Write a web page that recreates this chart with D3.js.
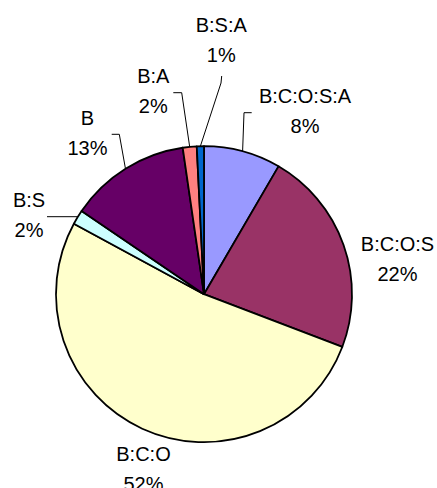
<!DOCTYPE html>
<html>
<head>
<meta charset="utf-8">
<script src="https://cdn.jsdelivr.net/npm/d3@7"></script>
<style>
html,body{margin:0;padding:0;background:#fff;}
svg{display:block;}
</style>
</head>
<body>
<svg id="chart" width="437" height="488"></svg>
<script>
// Data (percent shares, clockwise from 12 o'clock)
const categories = ["B:C:O:S:A", "B:C:O:S", "B:C:O", "B:S", "B", "B:A", "B:S:A"];
const values = [8.4, 22.4, 52.1, 1.6, 13.2, 1.52, 0.78];
const colors = ["#9999FF", "#993366", "#FFFFCC", "#CCFFFF", "#660066", "#FF8080", "#0066CC"];

// Layout (not data): label first-baseline position & leader elbows, relative to pie centre
const cx = 204, cy = 294.2, R = 148;
const labelLayout = [
  {x: 305,   y: 103.3, leader: [[251.7, 112.7], [244, 112.7]]},
  {x: 397.5, y: 250.7, leader: null},
  {x: 143.5, y: 461,   leader: null},
  {x: 29,    y: 207.3, leader: [[47, 216.7]], horizontal: true},
  {x: 87.5,  y: 125,   leader: [[111.7, 134.3], [119.3, 134.3]]},
  {x: 153.3, y: 83.3,  leader: [[173.3, 92.7], [181.7, 92.7]]},
  {x: 221.3, y: 31.7,  leader: [[221.7, 76], [221, 83]]}
];

const svg = d3.select("#chart");
const total = d3.sum(values);
const data = categories.map((c, i) => ({cat: c, value: values[i], color: colors[i], i}));

const pie = d3.pie().value(d => d.value).sort(null);
const arc = d3.arc().innerRadius(0).outerRadius(R);
const arcs = pie(data);

const g = svg.append("g").attr("transform", `translate(${cx},${cy})`);
g.selectAll("path.slice")
  .data(arcs)
  .enter().append("path")
  .attr("class", "slice")
  .attr("d", arc)
  .attr("fill", d => d.data.color)
  .attr("stroke", "#000")
  .attr("stroke-width", 1.8)
  .attr("stroke-linejoin", "round");

// Leader lines
const lineGen = d3.line();
arcs.forEach((a, i) => {
  const L = labelLayout[i];
  if (!L.leader) return;
  const pts = L.leader.map(p => [p[0], p[1]]);
  let end;
  if (L.horizontal) {
    const y = pts[pts.length - 1][1] - cy;
    const x = -Math.sqrt(R * R - y * y);
    end = [cx + x, cy + y];
  } else {
    const mid = (a.startAngle + a.endAngle) / 2;
    end = [cx + R * Math.sin(mid), cy - R * Math.cos(mid)];
  }
  pts.push(end);
  svg.append("path")
    .attr("d", lineGen(pts))
    .attr("fill", "none")
    .attr("stroke", "#000")
    .attr("stroke-width", 1);
});

// Labels
const fmt = v => Math.round(v / total * 100 + 1e-9) + "%";
arcs.forEach((a, i) => {
  const L = labelLayout[i];
  const t = svg.append("text")
    .attr("x", L.x)
    .attr("y", L.y)
    .attr("text-anchor", "middle")
    .attr("font-family", "Arial, 'Liberation Sans', sans-serif")
    .attr("font-size", 20)
    .attr("fill", "#000");
  t.append("tspan").attr("x", L.x).attr("y", L.y).text(a.data.cat);
  t.append("tspan").attr("x", L.x).attr("y", L.y + 30).text(fmt(a.data.value));
});
</script>
</body>
</html>
